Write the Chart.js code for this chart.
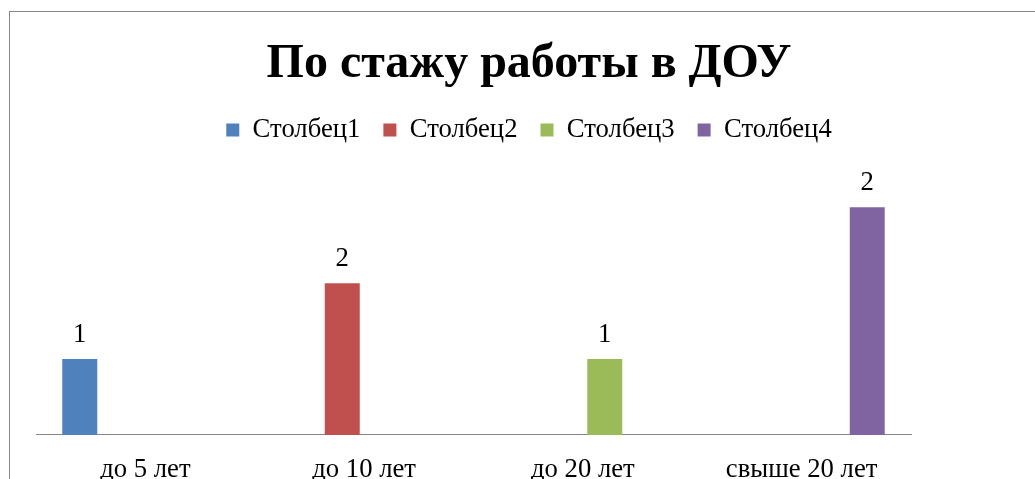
<!DOCTYPE html>
<html>
<head>
<meta charset="utf-8">
<script src="https://cdn.jsdelivr.net/npm/chart.js@4/dist/chart.umd.min.js"></script>
<style>
  html, body { margin: 0; padding: 0; background: #ffffff; overflow: hidden; width: 1035px; height: 479px; }
  #wrap { position: absolute; left: 0; top: 0; width: 1058px; height: 505px; }
  #frame { position: absolute; left: 9px; top: 11px; width: 1200px; height: 600px;
           border-top: 1px solid #868686; border-left: 1px solid #868686; pointer-events: none; }
</style>
</head>
<body>
<div id="wrap"><canvas id="chart"></canvas></div>
<div id="frame"></div>
<script>
// ---- data ----
const categories = ['до 5 лет', 'до 10 лет', 'до 20 лет', 'свыше 20 лет'];
const seriesNames = ['Столбец1', 'Столбец2', 'Столбец3', 'Столбец4'];
const col1 = [1, null, null, null];
const col2 = [null, 2, null, null];
const col3 = [null, null, 1, null];
const col4 = [null, null, null, 3];
const shownLabels = ['1', '2', '1', '2']; // data label text as printed on each series
const seriesColors = ['#4F81BD', '#C0504D', '#9BBB59', '#8064A2'];
const yMin = 0;
const yMax = 3.5;

const FONT = '"Liberation Serif", "Times New Roman", serif';
const seriesValues = [col1, col2, col3, col4];

Chart.defaults.font.family = FONT;
Chart.defaults.color = '#000000';

const valueLabelPlugin = {
  id: 'valueLabels',
  afterDatasetsDraw(chart) {
    const ctx = chart.ctx;
    ctx.save();
    ctx.font = '26.7px ' + FONT;
    ctx.fillStyle = '#000000';
    ctx.textAlign = 'center';
    ctx.textBaseline = 'alphabetic';
    chart.data.datasets.forEach((ds, i) => {
      const meta = chart.getDatasetMeta(i);
      meta.data.forEach((el, j) => {
        if (ds.data[j] == null) return;
        ctx.fillText(shownLabels[i], el.x, el.y - 17);
      });
    });
    ctx.restore();
  }
};

const hiddenAxis = (extra) => Object.assign({
  display: true,
  grid: { display: false, drawTicks: false },
  border: { display: false },
  ticks: { display: false }
}, extra);

new Chart(document.getElementById('chart'), {
  type: 'bar',
  data: {
    labels: categories,
    datasets: seriesNames.map((name, i) => ({
      label: name,
      data: seriesValues[i],
      backgroundColor: seriesColors[i],
      borderWidth: 0,
      categoryPercentage: 0.8,
      barPercentage: 0.8
    }))
  },
  options: {
    responsive: true,
    maintainAspectRatio: false,
    animation: false,
    events: [],
    layout: { padding: 0 },
    plugins: {
      title: {
        display: true,
        text: 'По стажу работы в ДОУ',
        color: '#000000',
        font: { family: FONT, size: 48, weight: 'bold' },
        padding: { top: 36, bottom: 0 }
      },
      legend: {
        display: true,
        position: 'top',
        labels: {
          color: '#000000',
          font: { family: FONT, size: 26.7 },
          boxWidth: 13,
          boxHeight: 13,
          padding: 23
        }
      },
      tooltip: { enabled: false }
    },
    scales: {
      x: {
        grid: { display: false, drawTicks: false },
        border: { display: true, color: '#868686', width: 1 },
        ticks: { color: '#000000', font: { family: FONT, size: 26.7 }, padding: 19, maxRotation: 0 }
      },
      gap: hiddenAxis({ type: 'category', position: 'top', afterFit: (s) => { s.height = 16; } }),
      y: hiddenAxis({ position: 'left', min: yMin, max: yMax, afterFit: (s) => { s.width = 36; } }),
      rightGap: hiddenAxis({ type: 'linear', position: 'right', afterFit: (s) => { s.width = 147; } })
    }
  },
  plugins: [valueLabelPlugin]
});
</script>
</body>
</html>
